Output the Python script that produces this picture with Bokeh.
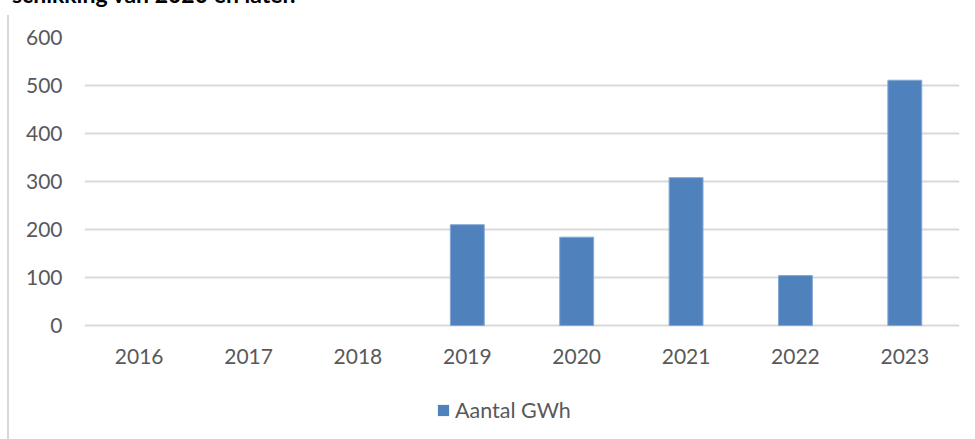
from bokeh.plotting import figure
from bokeh.models import Div, Legend, LegendItem, ColumnDataSource, FixedTicker
from bokeh.core.properties import value
from bokeh.layouts import column
from bokeh.embed import file_html
from bokeh.resources import INLINE

years = ["2016", "2017", "2018", "2019", "2020", "2021", "2022", "2023"]
gwh = [0, 0, 0, 210, 184, 308, 104, 511]
y_ticks = [0, 100, 200, 300, 400, 500, 600]
title_text = "schikking van 2020 en later."
series_name = "Aantal GWh"

FONT = "Lato"
GREY = "#595959"

title = Div(
    text=f'<div style="position:relative; top:-22px; font-family:{FONT}; font-weight:bold; '
         f'font-size:23px; line-height:1; color:#000; white-space:nowrap;">{title_text}</div>',
    width=400, height=5,
    styles={"overflow": "visible"},
)

src = ColumnDataSource(dict(x=years, y=gwh,
                            la=[0.0 if v == 0 else 1.0 for v in gwh]))

p = figure(
    x_range=years, y_range=(-237.5, 600),
    width=958, height=424,
    output_backend="svg", toolbar_location=None,
    min_border_left=75, min_border_right=8, min_border_top=22, min_border_bottom=0,
    styles={"border-left": "2px solid #d9d9d9"},
)
p.outline_line_color = None
p.x_range.range_padding = 0

r = p.vbar(x="x", top="y", width=0.31, source=src,
           fill_color="#4F81BD", line_color="#86A8D5", line_alpha="la", line_width=1)

# category labels under the zero line
p.text(x=years, y=[0] * len(years), text=years, y_offset=23,
       text_align="center", text_baseline="top",
       text_font=value(FONT), text_font_size="21px", text_color=GREY)

p.xaxis.visible = False
p.xgrid.grid_line_color = None
p.ygrid.grid_line_color = "#d9d9d9"
p.ygrid.grid_line_width = 2
p.yaxis.ticker = FixedTicker(ticks=y_ticks)

ax = p.yaxis
ax.axis_line_color = None
ax.major_tick_line_color = None
ax.minor_tick_line_color = None
ax.major_tick_out = 0
ax.major_tick_in = 0
ax.major_label_text_font = FONT
ax.major_label_text_font_size = "21px"
ax.major_label_text_color = GREY
ax.major_label_standoff = 22

legend = Legend(
    items=[LegendItem(label=series_name, renderers=[r])],
    location=(352, 16),
    orientation="horizontal",
    border_line_color=None, background_fill_alpha=0,
    padding=0, margin=0,
    glyph_width=14, glyph_height=14, label_standoff=5,
    label_text_font=FONT, label_text_font_size="21.5px", label_text_color=GREY,
)
p.add_layout(legend)

layout = column(title, p, spacing=0, styles={"margin-left": "7px"})
open("out.html", "w").write(file_html(layout, INLINE))
